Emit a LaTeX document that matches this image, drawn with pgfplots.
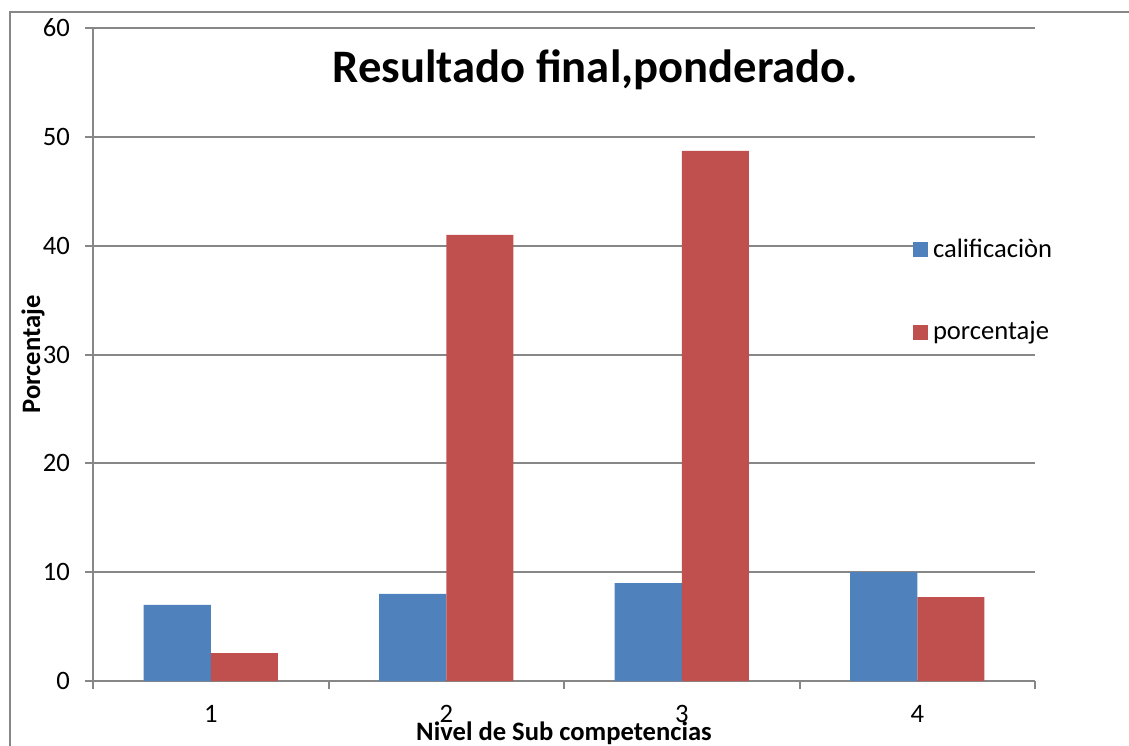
\documentclass[border=0pt]{standalone}
\usepackage{fontspec}
\setmainfont{Carlito}
\usepackage{pgfplots}
\pgfplotsset{compat=1.18}
\definecolor{cblue}{HTML}{4F81BD}
\definecolor{cred}{HTML}{C0504D}
\definecolor{cgrid}{HTML}{878787}
\begin{document}
\begin{tikzpicture}
\useasboundingbox (-46.5pt,-32pt) rectangle (518pt,340.5pt);
\draw[cgrid, line width=1pt] (-41.5pt,-45pt) -- (-41.5pt,334.5pt) -- (530pt,334.5pt);
\begin{axis}[
  scale only axis,
  width=471pt, height=326.5pt,
  xmin=0.5, xmax=4.5, ymin=0, ymax=60,
  ybar=0pt, bar width=0.285,
  axis x line*=bottom, axis y line*=left,
  axis line style={cgrid, line width=1pt},
  ytick={0,10,...,60},
  xtick={1,2,3,4},
  minor xtick={0.5,1.5,2.5,3.5,4.5},
  tick align=outside,
  major tick length=4pt,
  minor tick length=4pt,
  x tick style={draw=none},
  minor x tick style={draw=cgrid, line width=1pt},
  y tick style={cgrid, line width=1pt},
  ymajorgrids,
  major grid style={cgrid, line width=1pt},
  /pgf/number format/assume math mode=true,
  ticklabel style={font=\fontsize{13.3}{15}\selectfont, text=black},
  yticklabel style={xshift=-4pt},
  xticklabel style={yshift=-4.5pt},
  xlabel={\textbf{Nivel de Sub competencias}},
  ylabel={\textbf{Porcentaje}},
  label style={font=\fontsize{13.3}{15}\selectfont},
  xlabel style={at={(axis description cs:0.5,-0.0796)}, anchor=center},
  ylabel style={at={(axis description cs:-0.0637,0.5)}, anchor=center},
  legend style={at={(axis description cs:0.8705,0.6815)}, anchor=north west,
    draw=none, fill=white, inner sep=0pt, outer sep=0pt,
    font=\fontsize{13.3}{15}\selectfont, row sep=27.5pt,
    nodes={inner sep=1.5pt}},
  legend cell align=left,
]
\addplot[fill=cblue, draw=none, legend image code/.code={\fill[cblue] (0pt,-3.75pt) rectangle (7.5pt,3.75pt);}]
  coordinates {(1,7) (2,8) (3,9) (4,10)};
\addlegendentry{\hspace{1pt}calificaciòn}
\addplot[fill=cred, draw=none, legend image code/.code={\fill[cred] (0pt,-3.75pt) rectangle (7.5pt,3.75pt);}]
  coordinates {(1,2.56) (2,41.0) (3,48.7) (4,7.7)};
\addlegendentry{\hspace{1pt}porcentaje}
\node[font=\bfseries\fontsize{23.3}{28}\selectfont, anchor=center] at (axis description cs:0.5333,0.9357) {Resultado final,ponderado.};
\end{axis}
\end{tikzpicture}
\end{document}
